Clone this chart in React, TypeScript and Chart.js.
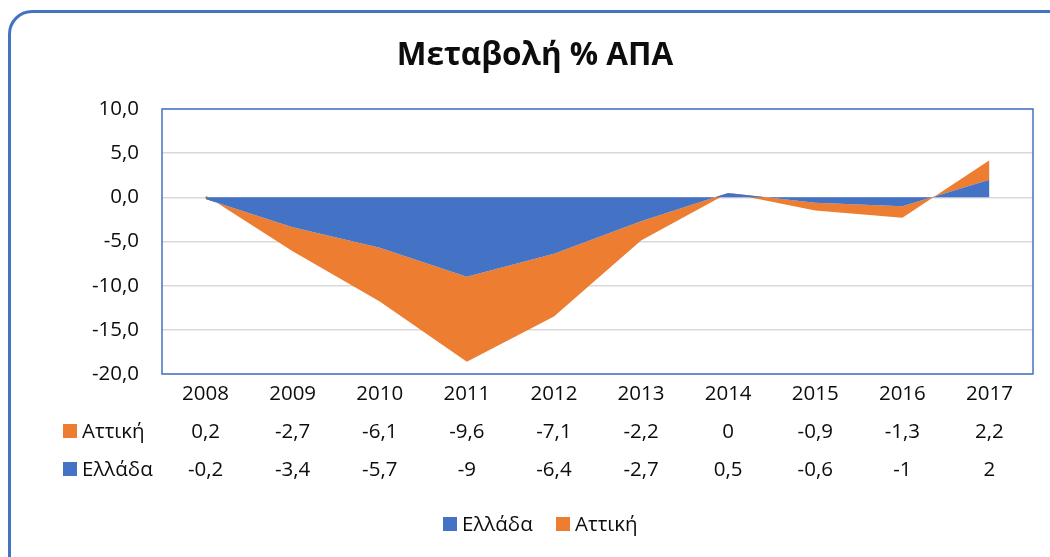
import React, { useEffect, useRef } from "react";
import { Chart, registerables } from "chart.js";

Chart.register(...registerables);

const title = "Μεταβολή % ΑΠΑ";
const categories = ["2008", "2009", "2010", "2011", "2012", "2013", "2014", "2015", "2016", "2017"];
const greeceLabel = "Ελλάδα";
const atticaLabel = "Αττική";
const greece = [-0.2, -3.4, -5.7, -9, -6.4, -2.7, 0.5, -0.6, -1, 2];
const attica = [0.2, -2.7, -6.1, -9.6, -7.1, -2.2, 0, -0.9, -1.3, 2.2];
const yMin = -20;
const yMax = 10;
const yStep = 5;

const BLUE = "#4472C4";
const ORANGE = "#ED7D31";
const FONT = "'Open Sans', 'Noto Sans', sans-serif";
const TEXT = "#0d0d0d";
const SIZE = 20.5;

const fmt = (v: number) => String(v).replace(".", ",");

const overlayPlugin = {
  id: "overlay",
  afterDraw(chart: any) {
    const ctx = chart.ctx as CanvasRenderingContext2D;
    const area = chart.chartArea;
    const xs = chart.scales.x;
    ctx.save();
    // plot border
    ctx.strokeStyle = BLUE;
    ctx.lineWidth = 1.5;
    ctx.strokeRect(area.left, area.top, area.right - area.left, area.bottom - area.top);

    // title
    ctx.fillStyle = TEXT;
    ctx.textAlign = "center";
    ctx.textBaseline = "alphabetic";
    ctx.font = `bold 31.5px ${FONT}`;
    ctx.fillText(title, 535, 65);

    // x category labels
    ctx.font = `${SIZE}px ${FONT}`;
    categories.forEach((c, i) => {
      ctx.fillText(c, xs.getPixelForValue(i), 400);
    });

    // data table rows
    const rows = [
      { label: atticaLabel, color: ORANGE, values: attica, y: 438 },
      { label: greeceLabel, color: BLUE, values: greece, y: 476 },
    ];
    rows.forEach((r) => {
      ctx.fillStyle = r.color;
      ctx.fillRect(63, r.y - 14, 14, 14);
      ctx.fillStyle = TEXT;
      ctx.textAlign = "left";
      ctx.fillText(r.label, 82, r.y);
      ctx.textAlign = "center";
      r.values.forEach((v, i) => {
        ctx.fillText(fmt(v), xs.getPixelForValue(i), r.y);
      });
    });

    // legend
    const legend = [
      { label: greeceLabel, color: BLUE, x: 443 },
      { label: atticaLabel, color: ORANGE, x: 556 },
    ];
    legend.forEach((l) => {
      ctx.fillStyle = l.color;
      ctx.fillRect(l.x, 517, 14, 14);
      ctx.fillStyle = TEXT;
      ctx.textAlign = "left";
      ctx.fillText(l.label, l.x + 19, 531);
    });
    ctx.restore();
  },
};

export default function App() {
  const ref = useRef<HTMLCanvasElement>(null);
  useEffect(() => {
    if (!ref.current) return;
    const chart = new Chart(ref.current, {
      type: "line",
      data: {
        labels: categories,
        datasets: [
          {
            label: greeceLabel,
            data: greece,
            backgroundColor: BLUE,
            borderWidth: 0,
            pointRadius: 0,
            fill: "origin",
            tension: 0,
          },
          {
            label: atticaLabel,
            data: attica,
            backgroundColor: ORANGE,
            borderWidth: 0,
            pointRadius: 0,
            fill: "-1",
            tension: 0,
          },
        ],
      },
      options: {
        responsive: false,
        animation: false,
        layout: { padding: { top: 109, left: 0, right: 17, bottom: 0 } },
        plugins: {
          legend: { display: false },
          title: { display: false },
          tooltip: { enabled: false },
        },
        scales: {
          x: {
            offset: true,
            grid: { display: false },
            border: { display: false },
            ticks: { display: false },
            afterFit: (s: any) => {
              s.height = 183;
            },
          },
          y: {
            stacked: true,
            min: yMin,
            max: yMax,
            grid: { color: "#D9D9D9", lineWidth: 1.5, drawTicks: false },
            border: { display: false },
            ticks: {
              stepSize: yStep,
              padding: 23,
              color: TEXT,
              font: { family: FONT, size: SIZE },
              callback: (v: any) => Number(v).toFixed(1).replace(".", ","),
            },
            afterFit: (s: any) => {
              s.width = 162;
            },
          },
        },
      },
      plugins: [overlayPlugin],
    });
    return () => chart.destroy();
  }, []);

  return (
    <div style={{ position: "fixed", left: 0, top: 0, width: 1050, height: 557, overflow: "hidden", background: "#fff" }}>
      <div
        style={{
          position: "absolute",
          left: 8,
          top: 10,
          width: 1100,
          height: 600,
          border: `3px solid ${BLUE}`,
          borderRadius: 24,
        }}
      />
      <canvas ref={ref} width={1050} height={557} style={{ position: "absolute", left: 0, top: 0 }} />
    </div>
  );
}
